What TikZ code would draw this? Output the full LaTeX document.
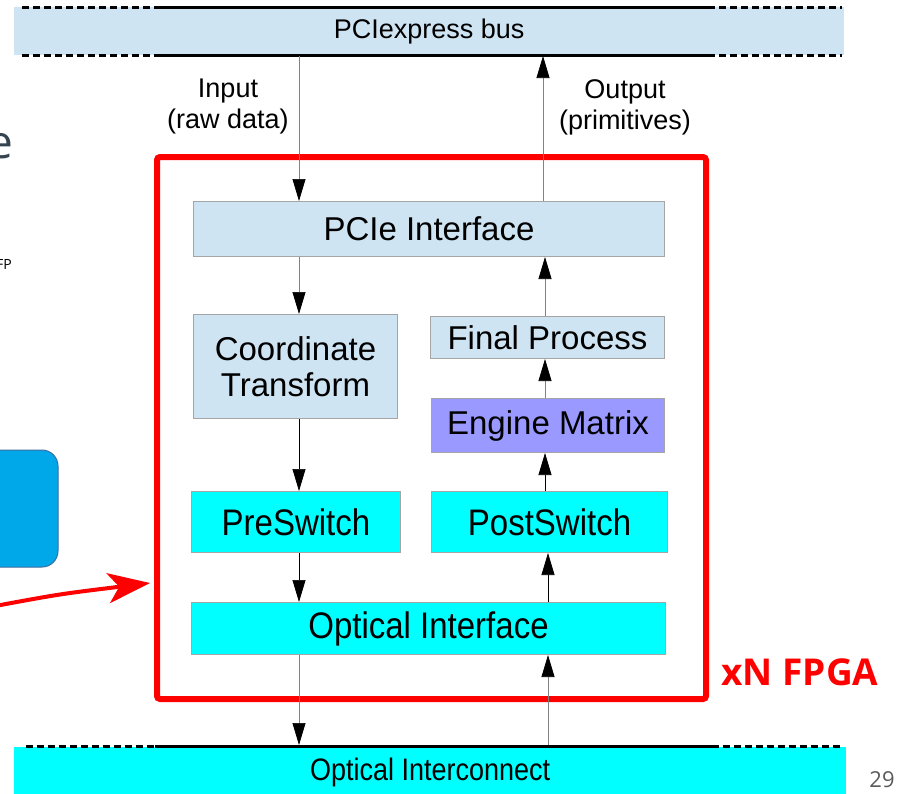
\documentclass[tikz,border=0pt]{standalone}
\usepackage{fontspec}
\setmainfont{Liberation Sans}
\newfontfamily\slidefont{Open Sans}
\usetikzlibrary{arrows.meta,calc}
\definecolor{paleblue}{RGB}{207,228,242}
\definecolor{boxgray}{RGB}{165,165,165}
\definecolor{engine}{RGB}{153,153,255}
\definecolor{brightcyan}{RGB}{0,255,255}
\definecolor{slate}{RGB}{52,68,80}
\definecolor{tileblue}{RGB}{0,168,234}
\definecolor{tileedge}{RGB}{60,110,160}
\definecolor{pagenum}{RGB}{90,90,90}
\definecolor{linkgray}{RGB}{130,130,130}
\tikzset{
  blk/.style={draw=boxgray, line width=1pt, anchor=north west, inner sep=0pt, align=center,
              font=\fontsize{33}{36}\selectfont},
  lblue/.style={blk, fill=paleblue},
  cyanbox/.style={blk, fill=brightcyan},
  flow/.style={draw=linkgray, line width=0.7pt, -{Triangle[length=22pt,width=13pt,color=black,fill=black]}},
  buslabel/.style={font=\fontsize{27}{31}\selectfont, align=center},
  solidbus/.style={line width=3pt, black},
  dashbus/.style={line width=3pt, black, dash pattern=on 7pt off 4pt},
}
\begin{document}
\begin{tikzpicture}[x=1pt,y=-1pt]
\useasboundingbox (0,0) rectangle (901,793);
\clip (0,0) rectangle (901,793);

% column positions of the data paths
\coordinate (cl) at (299,0);
\coordinate (cr) at (545,0);

% PCIexpress bus
\node[anchor=north west, fill=paleblue, minimum width=830pt, minimum height=48pt, inner sep=0pt,
      font=\fontsize{27}{31}\selectfont] (bus) at (14,7) {PCIexpress bus};
\draw[solidbus] (155,7) -- (708,7);
\draw[solidbus] (155,55) -- (708,55);
\draw[dashbus] (22,7) -- (155,7);
\draw[dashbus] (22,55) -- (155,55);
\draw[dashbus] (708,7) -- (842,7);
\draw[dashbus] (708,55) -- (842,55);
\coordinate (busbot) at (0,56);

% Optical interconnect
\node[anchor=north west, fill=brightcyan, minimum width=832pt, minimum height=50pt, inner sep=0pt,
      font=\fontsize{27}{31}\selectfont] (oic) at (14,747) {\scalebox{1.0}[1.15]{Optical Interconnect}};
\draw[solidbus] (155,746) -- (712,746);
\draw[dashbus] (26,746) -- (155,746);
\draw[dashbus] (712,746) -- (840,746);
\coordinate (oictop) at (0,745);

% FPGA frame
\draw[red, line width=6pt, rounded corners=3pt] (157,157) rectangle (706,699);
\node[text=red, font=\slidefont\bfseries\fontsize{37}{40}\selectfont] (xn) at (800,672) {xN FPGA};

% blocks
\node[lblue, minimum width=471pt, minimum height=55pt] (pcie) at (193,201) {PCIe Interface};
\node[lblue, minimum width=204pt, minimum height=104pt] (coord) at (193,314) {Coordinate\\Transform};
\node[lblue, minimum width=234pt, minimum height=42pt] (final) at (430,316) {Final Process};
\node[blk, fill=engine, minimum width=233pt, minimum height=54pt] (engine) at (431,398) {Engine Matrix};
\node[cyanbox, minimum width=209pt, minimum height=61pt] (pre) at (191,491) {\scalebox{1.0}[1.12]{PreSwitch}};
\node[cyanbox, minimum width=236pt, minimum height=61pt] (post) at (431,491) {\scalebox{1.0}[1.12]{PostSwitch}};
\node[cyanbox, minimum width=474pt, minimum height=52pt] (opt) at (191,602) {\scalebox{1.0}[1.12]{Optical Interface}};

% labels on the bus links
\node[buslabel] (inlbl) at (228,107) {Input\\(raw data)};
\node[buslabel] (outlbl) at (625,107) {Output\\(primitives)};

% input path
\draw[flow] (busbot -| cl) -- (pcie.north -| cl);
\draw[flow] (pcie.south -| cl) -- (coord.north -| cl);
\draw[flow, draw=black] (coord.south -| cl) -- (pre.north -| cl);
\draw[flow, draw=black] (pre.south -| cl) -- (opt.north -| cl);
\draw[flow] (opt.south -| cl) -- (oictop -| cl);

% output path
\draw[flow] ([xshift=3pt]oictop -| cr) -- ([xshift=3pt]opt.south -| cr);
\draw[flow, draw=black] ([xshift=3pt]opt.north -| cr) -- ([xshift=3pt]post.south -| cr);
\draw[flow, draw=black] (post.north -| cr) -- (engine.south -| cr);
\draw[flow] (engine.north -| cr) -- (final.south -| cr);
\draw[flow] (final.north -| cr) -- (pcie.south -| cr);
\draw[flow] ([xshift=-2pt]pcie.north -| cr) -- ([xshift=-2pt]busbot -| cr);

% slide fragments at the left edge
\node[anchor=east, text=slate, inner sep=0pt, font=\slidefont\fontsize{46}{50}\selectfont] (frag) at (14,146) {e};
\node[anchor=east, inner sep=0pt, font=\slidefont\fontsize{14}{15}\selectfont] (fp) at (12,264) {FP};
\draw[fill=tileblue, draw=tileedge, line width=1pt, rounded corners=16pt] (-40,450) rectangle (58,567);
\coordinate (arrowstart) at (-5,606);
\draw[red, line width=4pt, -{Stealth[length=42pt,width=30pt,inset=11pt]}] (arrowstart) .. controls (60,594) .. (150,583);

% page number
\node[text=pagenum, font=\slidefont\fontsize{22}{24}\selectfont] (pg) at (882,780) {29};
\end{tikzpicture}
\end{document}
